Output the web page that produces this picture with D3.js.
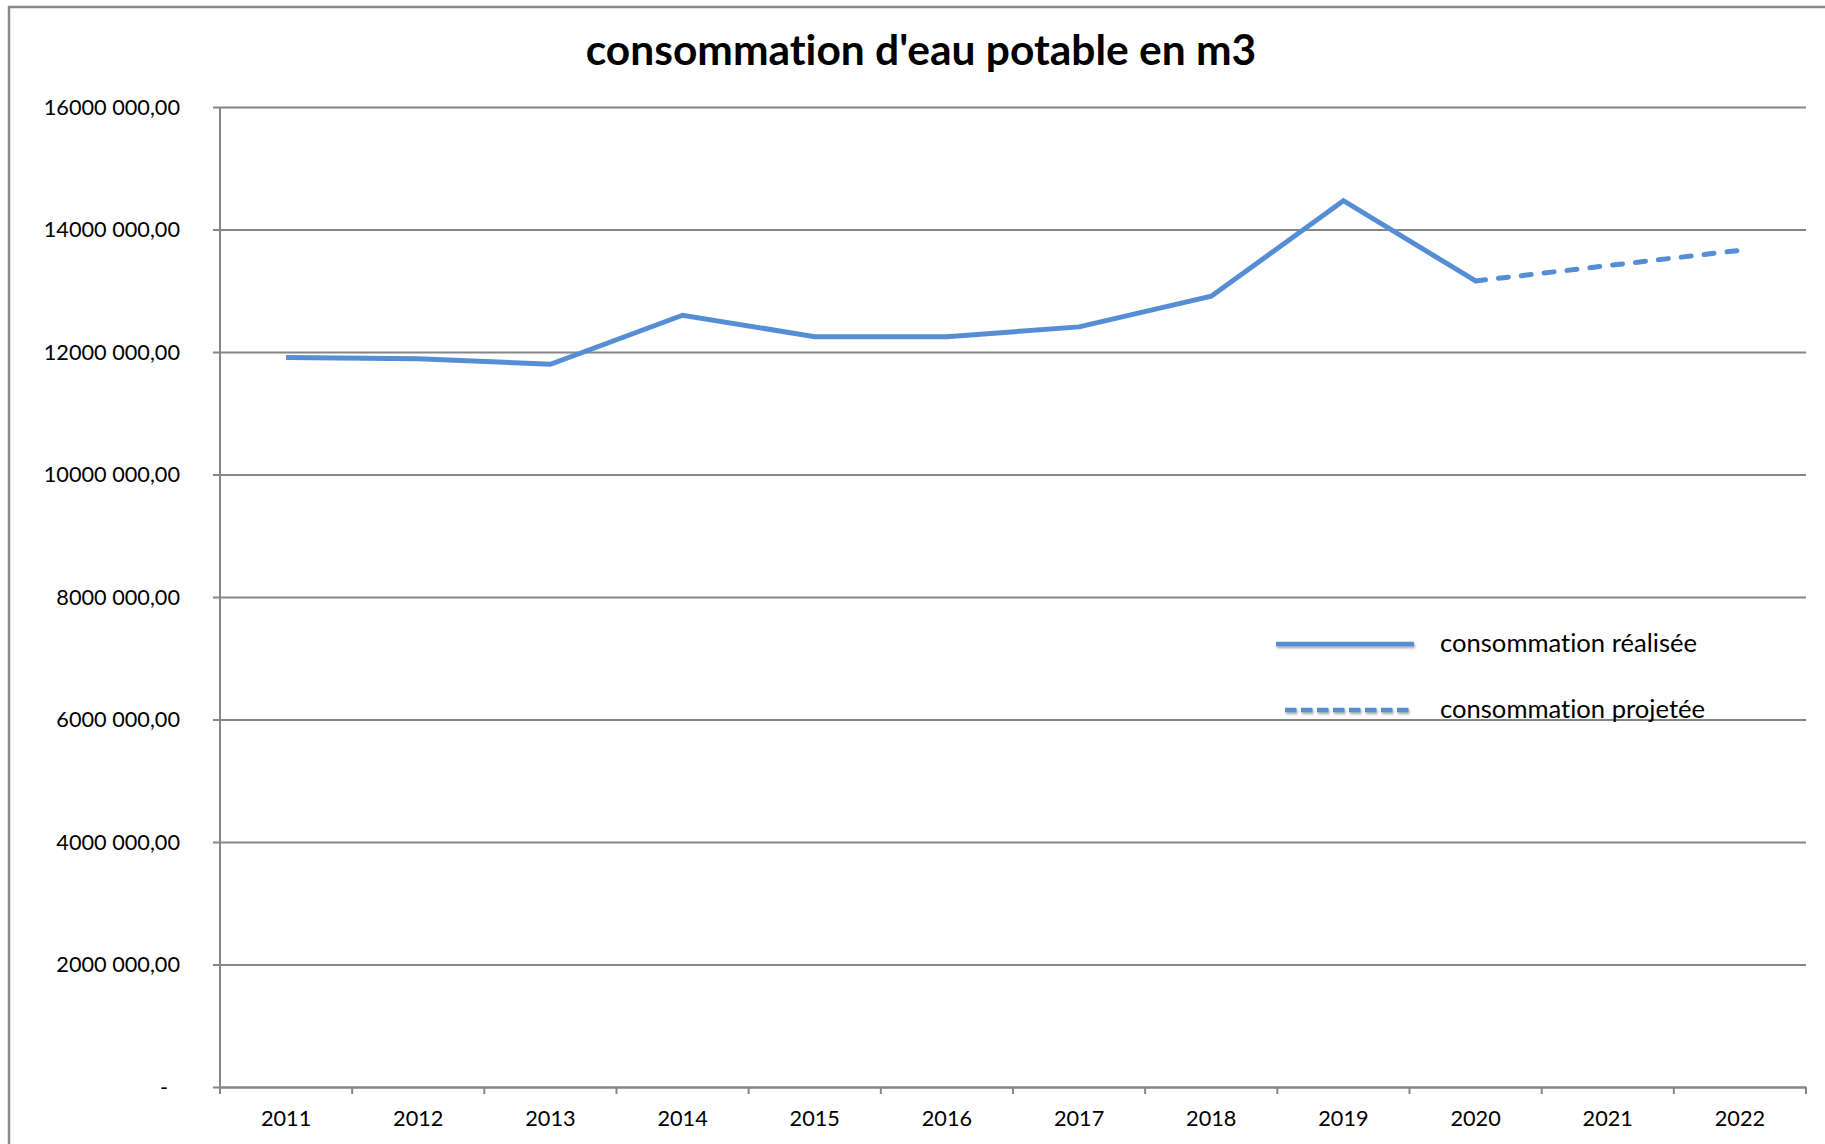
<!DOCTYPE html>
<html>
<head>
<meta charset="utf-8">
<script src="https://cdn.jsdelivr.net/npm/d3@7/dist/d3.min.js"></script>
<style>
  html, body { margin: 0; padding: 0; background: #ffffff; }
  svg { display: block; }
  text { font-family: Lato, "Open Sans", sans-serif; fill: #000; font-variant-ligatures: none; font-feature-settings: "liga" 0, "clig" 0; }
</style>
</head>
<body>
<svg id="chart" width="1825" height="1144"></svg>
<script>
// ---- data ----
const years = ["2011","2012","2013","2014","2015","2016","2017","2018","2019","2020","2021","2022"];
const realisee = [11910000, 11890000, 11800000, 12600000, 12250000, 12250000, 12410000, 12910000, 14470000, 13160000, null, null];
const projetee = [null, null, null, null, null, null, null, null, null, 13160000, 13410000, 13660000];
const yTicks = [0, 2000000, 4000000, 6000000, 8000000, 10000000, 12000000, 14000000, 16000000];
const yTickLabels = ["-", "2000 000,00", "4000 000,00", "6000 000,00", "8000 000,00", "10000 000,00", "12000 000,00", "14000 000,00", "16000 000,00"];
const seriesNames = ["consommation réalisée", "consommation projetée"];
const title = "consommation d'eau potable en m3";

// ---- layout ----
const W = 1825, H = 1144;
const plot = { left: 220, right: 1806, top: 107, bottom: 1087 };
const lineColor = "#558ed5";
const gridColor = "#868686";

const svg = d3.select("#chart");
svg.append("rect").attr("width", W).attr("height", H).attr("fill", "#fff");

const defs = svg.append("defs");
const f = defs.append("filter").attr("id", "shadow")
  .attr("filterUnits", "userSpaceOnUse")
  .attr("x", 0).attr("y", 0).attr("width", W).attr("height", H);
f.append("feDropShadow").attr("dx", 1).attr("dy", 2).attr("stdDeviation", 1.2).attr("flood-color", "#777").attr("flood-opacity", 0.6);

// outer frame
svg.append("path")
  .attr("d", `M9,${H + 10} L9,7 L${W + 10},7`)
  .attr("fill", "none").attr("stroke", "#8a8a8a").attr("stroke-width", 2.5);

const x = d3.scaleBand().domain(years).range([plot.left, plot.right]).padding(0);
const y = d3.scaleLinear().domain([0, 16000000]).range([plot.bottom, plot.top]);

// gridlines + y axis
const yAxis = d3.axisLeft(y).tickValues(yTicks).tickSize(-(plot.right - plot.left)).tickSizeOuter(0).tickFormat("");
const gy = svg.append("g").attr("transform", `translate(${plot.left},0)`).call(yAxis);
gy.select(".domain").remove();
gy.selectAll(".tick line")
  .attr("x1", -7)
  .attr("stroke", gridColor).attr("stroke-width", 2);

// y labels
svg.append("g").selectAll("text").data(yTicks).join("text")
  .attr("x", d => d === 0 ? 168 : 180)
  .attr("y", d => y(d))
  .attr("dy", "0.36em")
  .attr("text-anchor", "end")
  .attr("font-size", 21.7)
  .text((d, i) => yTickLabels[i]);

// vertical axis line
svg.append("line")
  .attr("x1", plot.left).attr("x2", plot.left)
  .attr("y1", plot.top).attr("y2", plot.bottom + 7)
  .attr("stroke", gridColor).attr("stroke-width", 2);

// x axis
const xAxis = d3.axisBottom(x).tickSize(0).tickSizeOuter(0);
const gx = svg.append("g").attr("transform", `translate(0,${plot.bottom})`).call(xAxis);
gx.select(".domain").attr("stroke", gridColor).attr("stroke-width", 2);
gx.selectAll(".tick text")
  .attr("font-family", "Lato, sans-serif")
  .attr("font-size", 21.7).attr("fill", "#000")
  .attr("y", 0).attr("dy", 39);
// category boundary ticks
const bounds = years.map(d => x(d)).concat([x(years[years.length - 1]) + x.bandwidth()]);
svg.append("g").selectAll("line").data(bounds).join("line")
  .attr("x1", d => d).attr("x2", d => d)
  .attr("y1", plot.bottom).attr("y2", plot.bottom + 7)
  .attr("stroke", gridColor).attr("stroke-width", 2);

// lines
const cx = i => x(years[i]) + x.bandwidth() / 2;
const lineGen = d3.line().defined(d => d != null).x((d, i) => cx(i)).y(d => y(d));
svg.append("path").datum(realisee)
  .attr("d", lineGen)
  .attr("fill", "none").attr("stroke", lineColor).attr("stroke-width", 5)
  .attr("stroke-linejoin", "miter").attr("stroke-linecap", "butt");
svg.append("path").datum(projetee)
  .attr("d", lineGen)
  .attr("fill", "none").attr("stroke", lineColor).attr("stroke-width", 5)
  .attr("stroke-dasharray", "10,13").attr("stroke-linecap", "round");

// title
svg.append("text")
  .attr("x", 921).attr("y", 65)
  .attr("text-anchor", "middle")
  .attr("font-size", 42.5).attr("font-weight", "bold")
  .text(title);

// legend
const legend = svg.append("g");
const leg = [
  { name: seriesNames[0], x1: 1276, x2: 1414, y: 644, dash: null },
  { name: seriesNames[1], x1: 1285, x2: 1412, y: 710, dash: "11.5,4.5" }
];
leg.forEach(l => {
  legend.append("line")
    .attr("x1", l.x1).attr("x2", l.x2).attr("y1", l.y).attr("y2", l.y)
    .attr("stroke", lineColor).attr("stroke-width", 4.5)
    .attr("stroke-dasharray", l.dash)
    .attr("filter", "url(#shadow)");
  legend.append("text")
    .attr("x", 1440).attr("y", l.y + 8)
    .attr("font-size", 25.6)
    .text(l.name);
});
</script>
</body>
</html>
